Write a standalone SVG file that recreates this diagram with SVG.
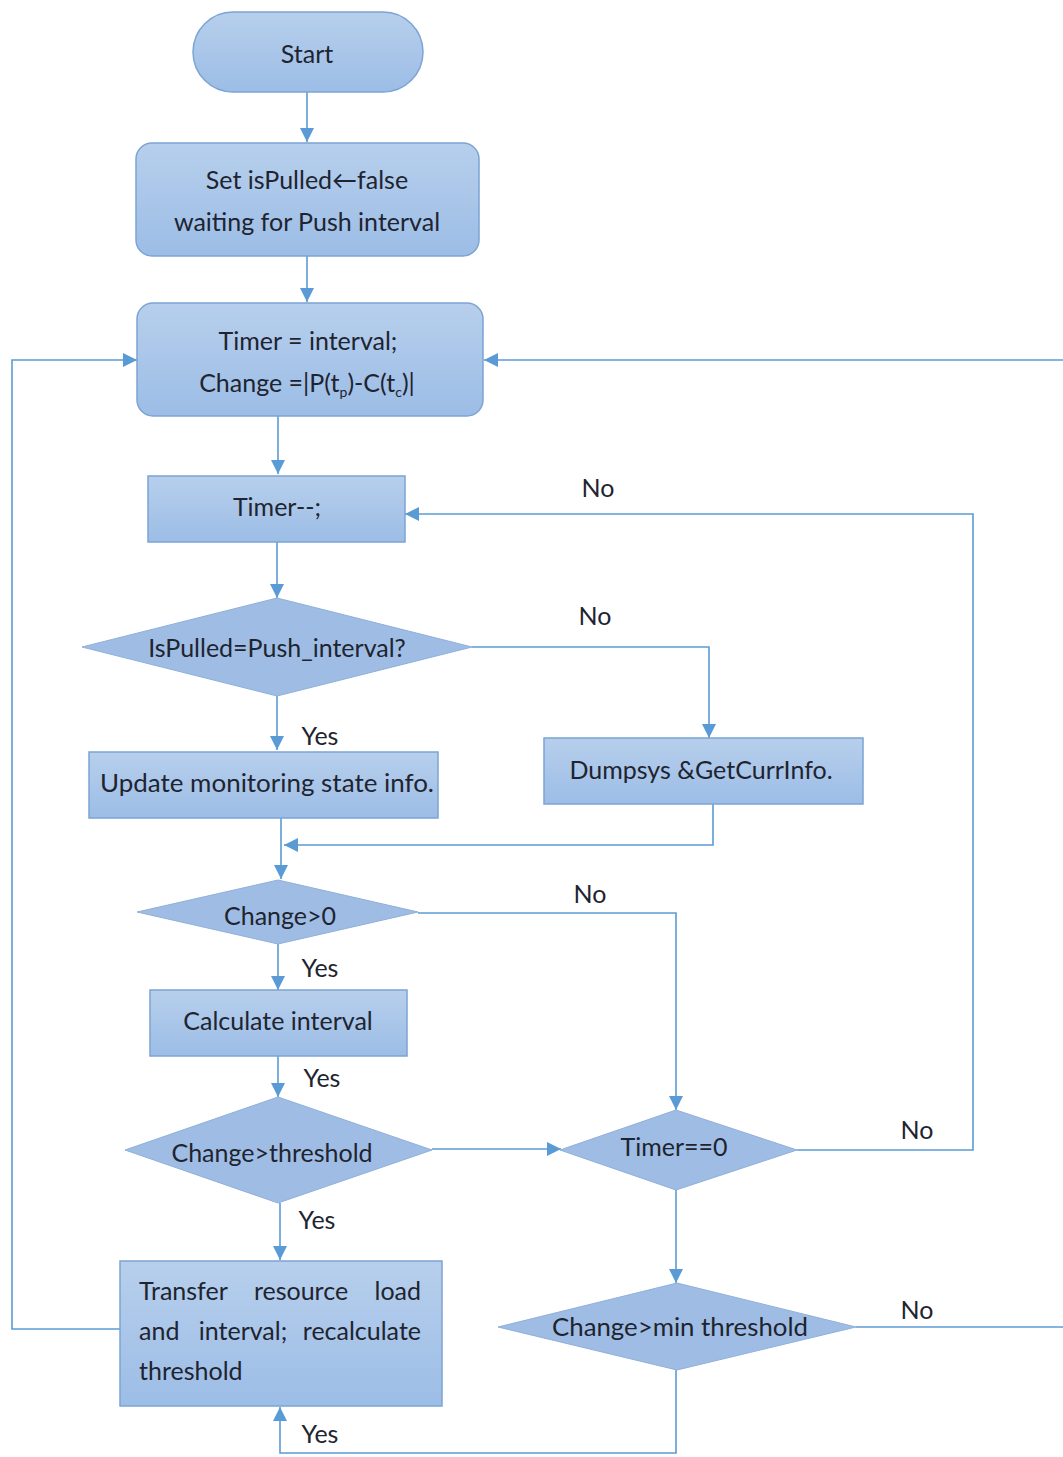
<svg xmlns="http://www.w3.org/2000/svg" width="1063" height="1457" viewBox="0 0 1063 1457">
<defs>
<linearGradient id="g" x1="0" y1="0" x2="0" y2="1">
<stop offset="0" stop-color="#b7cfec"/>
<stop offset="1" stop-color="#9cbde6"/>
</linearGradient>
<marker id="ar" viewBox="0 0 10 10" refX="10" refY="5" markerWidth="14" markerHeight="14" markerUnits="userSpaceOnUse" orient="auto">
<path d="M0,0 L10,5 L0,10 z" fill="#5b9bd5"/>
</marker>
<style>
.n{fill:url(#g);stroke:#7ca4d4;stroke-width:1.5}
.d{fill:#9fbde4;stroke:#8fb0da;stroke-width:1}
.c{fill:none;stroke:#5b9bd5;stroke-width:1.6}
text{font-family:Lato,"Open Sans","DejaVu Sans",sans-serif;font-size:25px;fill:#1e2430}
.m{text-anchor:middle}
.e{text-anchor:end}
</style>
</defs>
<rect width="1063" height="1457" fill="#ffffff"/>
<g id="connectors">
<path class="c" d="M307,92 V142" marker-end="url(#ar)"/>
<path class="c" d="M307,256 V302" marker-end="url(#ar)"/>
<path class="c" d="M278,416 V474" marker-end="url(#ar)"/>
<path class="c" d="M277,542 V598" marker-end="url(#ar)"/>
<path class="c" d="M472,647 H709 V738" marker-end="url(#ar)"/>
<path class="c" d="M277,696 V750" marker-end="url(#ar)"/>
<path class="c" d="M713,804 V845 H284" marker-end="url(#ar)"/>
<path class="c" d="M281,818 V879" marker-end="url(#ar)"/>
<path class="c" d="M418,913 H676 V1110" marker-end="url(#ar)"/>
<path class="c" d="M278,944 V990" marker-end="url(#ar)"/>
<path class="c" d="M278,1056 V1097" marker-end="url(#ar)"/>
<path class="c" d="M432,1149 H561" marker-end="url(#ar)"/>
<path class="c" d="M797,1150 H973 V514 H405" marker-end="url(#ar)"/>
<path class="c" d="M676,1190 V1283" marker-end="url(#ar)"/>
<path class="c" d="M856,1327 H1063"/>
<path class="c" d="M1063,360 H484" marker-end="url(#ar)"/>
<path class="c" d="M676,1370 V1453 H280 V1407" marker-end="url(#ar)"/>
<path class="c" d="M280,1203 V1260" marker-end="url(#ar)"/>
<path class="c" d="M120,1329 H12 V360 H137" marker-end="url(#ar)"/>
<text x="598" y="497" class="m">No</text>
<text x="595" y="625" class="m">No</text>
<text x="320" y="745" class="m">Yes</text>
<text x="590" y="903" class="m">No</text>
<text x="320" y="977" class="m">Yes</text>
<text x="322" y="1087" class="m">Yes</text>
<text x="317" y="1229" class="m">Yes</text>
<text x="917" y="1139" class="m">No</text>
<text x="917" y="1319" class="m">No</text>
<text x="320" y="1443" class="m">Yes</text>
</g>
<g id="start">
<rect class="n" x="193" y="12" width="230" height="80" rx="40"/>
<text x="307" y="63" class="m">Start</text>
</g>
<g id="set">
<rect class="n" x="136" y="143" width="343" height="113" rx="16"/>
<text x="307" y="189" class="m">Set isPulled←false</text>
<text x="307" y="231" class="m">waiting for Push interval</text>
</g>
<g id="timerset">
<rect class="n" x="137" y="303" width="346" height="113" rx="16"/>
<text x="308" y="350" class="m">Timer = interval;</text>
<text x="307" y="392" class="m">Change =|P(t<tspan font-size="14" dy="5">p</tspan><tspan dy="-5">)-C(t</tspan><tspan font-size="14" dy="5">c</tspan><tspan dy="-5">)|</tspan></text>
</g>
<g id="timerdec">
<rect class="n" x="148" y="476" width="257" height="66"/>
<text x="277" y="516" class="m">Timer--;</text>
</g>
<g id="ispulled">
<polygon class="d" points="277,598 472,647 277,696 82,647"/>
<text x="277" y="657" class="m">IsPulled=Push_interval?</text>
</g>
<g id="update">
<rect class="n" x="89" y="752" width="349" height="66"/>
<text x="267" y="792" class="m" textLength="334" lengthAdjust="spacingAndGlyphs">Update monitoring state info.</text>
</g>
<g id="dumpsys">
<rect class="n" x="544" y="738" width="319" height="66"/>
<text x="701" y="779" class="m">Dumpsys &amp;GetCurrInfo.</text>
</g>
<g id="change0">
<polygon class="d" points="278,880 418,912 278,944 137,912"/>
<text x="280" y="925" class="m">Change&gt;0</text>
</g>
<g id="calc">
<rect class="n" x="150" y="990" width="257" height="66"/>
<text x="278" y="1030" class="m">Calculate interval</text>
</g>
<g id="changethr">
<polygon class="d" points="278,1097 432,1150 278,1203 125,1150"/>
<text x="272" y="1162" class="m">Change&gt;threshold</text>
</g>
<g id="timer0">
<polygon class="d" points="676,1110 797,1150 676,1190 560,1150"/>
<text x="674" y="1156" class="m">Timer==0</text>
</g>
<g id="changemin">
<polygon class="d" points="677,1283 856,1327 677,1370 498,1327"/>
<text x="680" y="1336" class="m" textLength="256" lengthAdjust="spacingAndGlyphs">Change&gt;min threshold</text>
</g>
<g id="transfer">
<rect class="n" x="120" y="1261" width="322" height="145"/>
<text x="139" y="1300">Transfer</text>
<text x="301" y="1300" class="m">resource</text>
<text x="421" y="1300" class="e">load</text>
<text x="139" y="1340">and</text>
<text x="243" y="1340" class="m">interval;</text>
<text x="421" y="1340" class="e">recalculate</text>
<text x="139" y="1380">threshold</text>
</g>
</svg>
